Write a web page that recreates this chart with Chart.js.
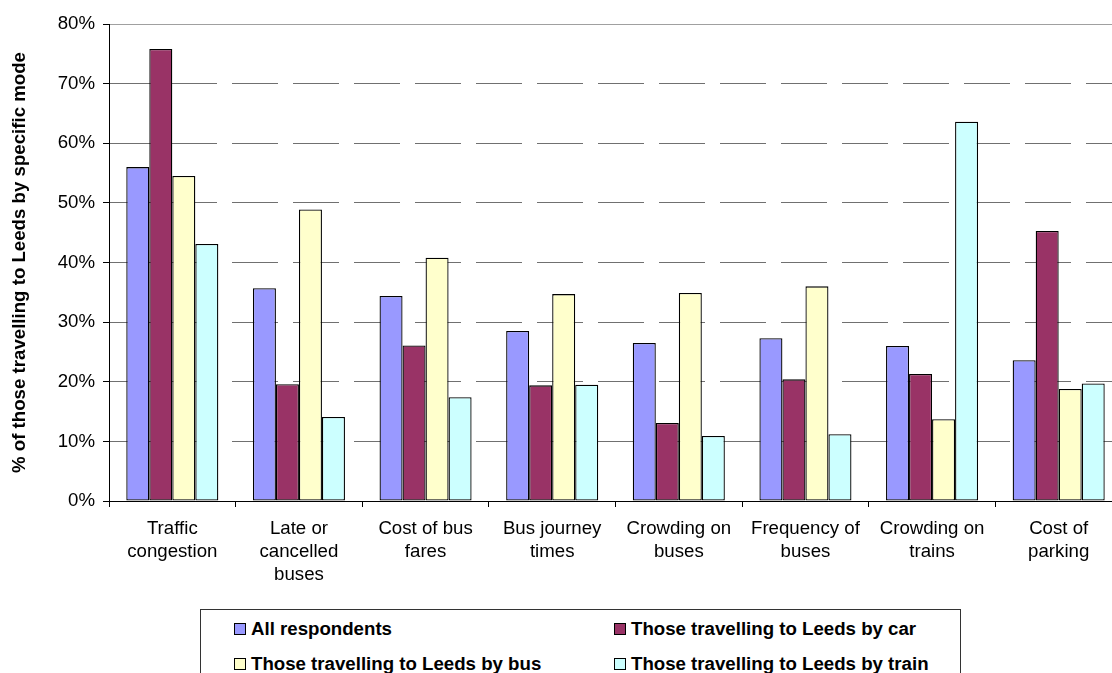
<!DOCTYPE html>
<html lang="en">
<head>
    <meta charset="UTF-8">
    <title>Problems travelling to Leeds</title>
    <script src="https://cdn.jsdelivr.net/npm/chart.js"></script>
    <style>
        * {
            padding: 0px;
            margin: 0px;
            box-sizing: border-box;
        }

        html, body {
            width: 1112px;
            height: 673px;
            overflow: hidden;
            background-color: #ffffff;
            font-family: 'Liberation Sans', Arial, sans-serif;
        }

        .chart-container {
            position: relative;
            width: 1125px;
            height: 673px;
        }

        #legend {
            position: absolute;
            left: 200px;
            top: 609px;
            width: 761px;
            height: 90px;
            border: 1px solid #333333;
            background: #ffffff;
            display: grid;
            grid-template-columns: 380px 380px;
            grid-auto-rows: 35px;
            padding: 1px 0 0 33px;
            font-weight: bold;
            font-size: 18.67px;
            color: #000000;
        }

        #legend .item {
            display: flex;
            align-items: center;
            white-space: nowrap;
        }

        #legend .box {
            width: 12px;
            height: 12px;
            border: 1px solid #000000;
            margin-right: 5px;
            flex: none;
        }
    </style>
</head>

<body>
    <div class="chart-container">
        <canvas id="chart1"></canvas>
        <div id="legend"></div>
    </div>

    <script>
        const categories = [
            ['Traffic', 'congestion'],
            ['Late or', 'cancelled', 'buses'],
            ['Cost of bus', 'fares'],
            ['Bus journey', 'times'],
            ['Crowding on', 'buses'],
            ['Frequency of', 'buses'],
            ['Crowding on', 'trains'],
            ['Cost of', 'parking']
        ];

        // % of respondents in each group
        const allRespondents = [56.0, 35.7, 34.4, 28.5, 26.5, 27.3, 26.0, 23.6];
        const byCar = [75.8, 19.6, 26.1, 19.4, 13.1, 20.4, 21.3, 45.3];
        const byBus = [54.5, 48.9, 40.8, 34.7, 34.9, 36.0, 13.7, 18.8];
        const byTrain = [43.1, 14.1, 17.4, 19.5, 10.9, 11.2, 63.6, 19.7];

        const seriesNames = [
            'All respondents',
            'Those travelling to Leeds by car',
            'Those travelling to Leeds by bus',
            'Those travelling to Leeds by train'
        ];
        const seriesColors = ['#9999ff', '#993366', '#ffffcc', '#ccffff'];

        const yTicks = [0, 10, 20, 30, 40, 50, 60, 70, 80];
        const yTitle = '% of those travelling to Leeds by specific mode';

        const font = "'Liberation Sans', Arial, sans-serif";

        const datasets = [allRespondents, byCar, byBus, byTrain].map((values, i) => ({
            label: seriesNames[i],
            data: values,
            backgroundColor: seriesColors[i],
            borderColor: '#000000',
            borderWidth: 1.3,
            borderSkipped: false,
            categoryPercentage: 0.727,
            barPercentage: 1.0
        }));

        // top gridline (80%) is solid in the original, the rest dashed
        const isTopTick = (ctx) => ctx.type === 'tick' && ctx.tick && ctx.tick.value === 80;

        const chart = new Chart(document.getElementById('chart1'), {
            type: 'bar',
            data: {
                labels: categories,
                datasets: datasets
            },
            options: {
                responsive: true,
                maintainAspectRatio: false,
                animation: false,
                layout: {
                    padding: { left: 0, right: 3, top: 24, bottom: 92 }
                },
                plugins: {
                    legend: { display: false },
                    tooltip: { enabled: false }
                },
                scales: {
                    x: {
                        grid: {
                            offset: true,
                            drawOnChartArea: false,
                            drawTicks: true,
                            tickLength: 6,
                            tickColor: '#000000'
                        },
                        border: { display: true, color: '#000000', width: 1 },
                        ticks: {
                            autoSkip: false,
                            maxRotation: 0,
                            minRotation: 0,
                            padding: 10,
                            color: '#000000',
                            font: { family: font, size: 18.67, lineHeight: 1.25 }
                        },
                        afterFit: (scale) => { scale.height = 80; }
                    },
                    y: {
                        min: 0,
                        max: 80,
                        afterBuildTicks: (scale) => {
                            scale.ticks = yTicks.map(v => ({ value: v }));
                        },
                        grid: {
                            color: (ctx) => isTopTick(ctx) ? '#a0a0a0' : '#707070',
                            lineWidth: 1,
                            drawTicks: true,
                            tickLength: 6,
                            tickColor: '#000000',
                            tickBorderDash: []
                        },
                        border: {
                            display: true,
                            color: '#000000',
                            width: 1,
                            dash: (ctx) => (ctx.type === 'tick' && !isTopTick(ctx)) ? [46, 15] : []
                        },
                        ticks: {
                            padding: 8,
                            color: '#000000',
                            font: { family: font, size: 18.67 },
                            callback: (v) => v + '%'
                        },
                        title: {
                            display: true,
                            text: yTitle,
                            color: '#000000',
                            font: { family: font, size: 18.67, weight: 'bold' },
                            padding: { top: 9, bottom: 0 }
                        },
                        afterFit: (scale) => { scale.width = 109; }
                    }
                }
            }
        });

        // legend box in two columns, like the original
        const legend = document.getElementById('legend');
        chart.data.datasets.forEach((ds) => {
            const item = document.createElement('div');
            item.className = 'item';
            const box = document.createElement('span');
            box.className = 'box';
            box.style.backgroundColor = ds.backgroundColor;
            const text = document.createElement('span');
            text.textContent = ds.label;
            item.appendChild(box);
            item.appendChild(text);
            legend.appendChild(item);
        });
    </script>
</body>
</html>
